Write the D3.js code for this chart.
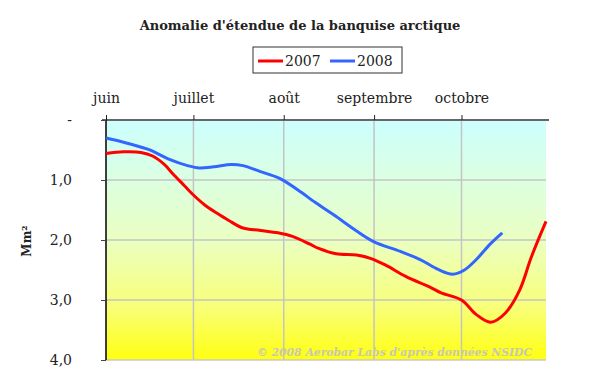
<!DOCTYPE html>
<html>
<head>
<meta charset="utf-8">
<script src="https://cdn.jsdelivr.net/npm/d3@7"></script>
<style>
  body { margin: 0; background: #fff; }
  svg { display: block; }
  text { font-family: "DejaVu Serif", serif; fill: #222; }
</style>
</head>
<body>
<svg width="600" height="387"></svg>
<script>
// dates are mm-dd, values in Mm² (anomaly, shown downward)
var dates2007 = ["06-01","06-07","06-13","06-17","06-21","06-24","06-28","07-01","07-05","07-09","07-13","07-18","07-24","07-30","08-04","08-10","08-13","08-19","08-26","08-31","09-05","09-12","09-20","09-24","10-01","10-06","10-11","10-16","10-21","10-25","10-30"];
var values2007 = [0.56,0.53,0.54,0.60,0.74,0.90,1.10,1.25,1.42,1.55,1.67,1.80,1.84,1.88,1.94,2.07,2.14,2.23,2.25,2.31,2.42,2.61,2.78,2.88,3.0,3.24,3.37,3.22,2.83,2.28,1.69];

var dates2008 = ["06-01","06-07","06-15","06-17","06-23","06-29","07-03","07-08","07-14","07-18","07-24","07-30","08-01","08-06","08-12","08-19","08-26","09-01","09-10","09-17","09-23","09-28","10-02","10-06","10-11","10-15"];
var values2008 = [0.30,0.37,0.48,0.52,0.66,0.76,0.80,0.78,0.74,0.76,0.86,0.96,1.01,1.17,1.38,1.61,1.85,2.03,2.19,2.33,2.49,2.57,2.5,2.33,2.06,1.88];

var monthTicks = ["06-01","07-01","08-01","09-01","10-01"];
var monthLabels = ["juin","juillet","août","septembre","octobre"];
var yTicks = [0, 1, 2, 3, 4];
var yLabels = ["-", "1,0", "2,0", "3,0", "4,0"];

var svg = d3.select("svg"),
    margin = {top: 120, left: 106, right: 54, bottom: 27},
    width = 600 - margin.left - margin.right,
    height = 387 - margin.top - margin.bottom;

var parseDay = d3.timeParse("%m-%d");

var x = d3.scaleTime()
    .domain([parseDay("06-01"), parseDay("10-30")])
    .range([0, width]);
var y = d3.scaleLinear().domain([0, 4]).range([0, height]);

// title
svg.append("text")
    .attr("x", 300).attr("y", 30)
    .attr("text-anchor", "middle")
    .style("font-size", "13px").style("font-weight", "bold")
    .text("Anomalie d'étendue de la banquise arctique");

// legend
var leg = svg.append("g").attr("transform", "translate(253,47)");
leg.append("rect").attr("width", 149).attr("height", 26)
    .attr("fill", "#fff").attr("stroke", "#333").attr("stroke-width", 1);
var legItems = [{id: "2007", color: "#ff0000", x: 5}, {id: "2008", color: "#3366ff", x: 77}];
legItems.forEach(function(d) {
  leg.append("line").attr("x1", d.x).attr("x2", d.x + 25).attr("y1", 14).attr("y2", 14)
      .attr("stroke", d.color).attr("stroke-width", 3);
  leg.append("text").attr("x", d.x + 27).attr("y", 19)
      .style("font-size", "14px").text(d.id);
});

var g = svg.append("g").attr("transform", "translate(" + margin.left + "," + margin.top + ")");

var defs = svg.append("defs");
var grad = defs.append("linearGradient").attr("id", "bg")
    .attr("x1", 0).attr("y1", 0).attr("x2", 0).attr("y2", 1);
grad.append("stop").attr("offset", "0").attr("stop-color", "#ccffff");
grad.append("stop").attr("offset", "0.5").attr("stop-color", "#eaffc2");
grad.append("stop").attr("offset", "0.78").attr("stop-color", "#f8ff78");
grad.append("stop").attr("offset", "1").attr("stop-color", "#ffff10");

g.append("rect").attr("width", width).attr("height", height).attr("fill", "url(#bg)");

// grid
g.selectAll(".hgrid").data(yTicks.slice(1, 4)).enter().append("line")
    .attr("x1", 0).attr("x2", width)
    .attr("y1", function(d) { return y(d); }).attr("y2", function(d) { return y(d); })
    .attr("stroke", "#c4c4c4").attr("stroke-width", 1.5);
g.selectAll(".vgrid").data(monthTicks.slice(1)).enter().append("line")
    .attr("x1", function(d) { return x(parseDay(d)); }).attr("x2", function(d) { return x(parseDay(d)); })
    .attr("y1", 0).attr("y2", height)
    .attr("stroke", "#c4c4c4").attr("stroke-width", 1.5);
g.append("line").attr("x1", 0).attr("x2", width).attr("y1", height).attr("y2", height)
    .attr("stroke", "#c8c8c8").attr("stroke-width", 1.5);

// watermark
g.append("text")
    .attr("x", width - 14).attr("y", height - 4)
    .attr("text-anchor", "end")
    .style("font-size", "10.8px").style("font-weight", "bold").style("font-style", "italic")
    .style("fill", "#c8c8b4")
    .text("© 2008 Aerobar Labs d'après données NSIDC");

// axes
var xAxis = d3.axisTop(x)
    .tickValues(monthTicks.map(parseDay))
    .tickFormat(function(d, i) { return monthLabels[i]; })
    .tickSize(5).tickPadding(12);
var gx = g.append("g").call(xAxis);
gx.select(".domain").attr("stroke", "#666").attr("stroke-width", 2)
    .attr("d", "M-4,0H" + (width + 3));
gx.selectAll(".tick line").attr("stroke", "#222");
gx.selectAll(".tick text").style("font-size", "14px").attr("fill", "#222")
    .style("font-family", "DejaVu Serif, serif");

var yAxis = d3.axisLeft(y)
    .tickValues(yTicks)
    .tickFormat(function(d, i) { return yLabels[i]; })
    .tickSize(5).tickPadding(29);
var gy = g.append("g").call(yAxis);
gy.select(".domain").attr("stroke", "#000").attr("stroke-width", 1.5)
    .attr("d", "M0,0V" + height);
gy.selectAll(".tick line").attr("stroke", "#444");
gy.selectAll(".tick text").style("font-size", "14px").attr("fill", "#222")
    .style("font-family", "DejaVu Serif, serif");

svg.append("text")
    .attr("transform", "translate(31,241) rotate(-90)")
    .attr("text-anchor", "middle")
    .style("font-size", "12px").style("font-weight", "bold")
    .text("Mm²");

// lines
var line = d3.line()
    .curve(d3.curveCatmullRom.alpha(0.5))
    .x(function(d) { return x(d.date); })
    .y(function(d) { return y(d.value); });

var series = [
  {id: "2008", color: "#3366ff", values: dates2008.map(function(d, i) { return {date: parseDay(d), value: values2008[i]}; })},
  {id: "2007", color: "#ff0000", values: dates2007.map(function(d, i) { return {date: parseDay(d), value: values2007[i]}; })}
];

g.selectAll(".line").data(series).enter().append("path")
    .attr("class", "line")
    .attr("fill", "none")
    .attr("stroke", function(d) { return d.color; })
    .attr("stroke-width", 3)
    .attr("stroke-linejoin", "round")
    .attr("d", function(d) { return line(d.values); });
</script>
</body>
</html>
